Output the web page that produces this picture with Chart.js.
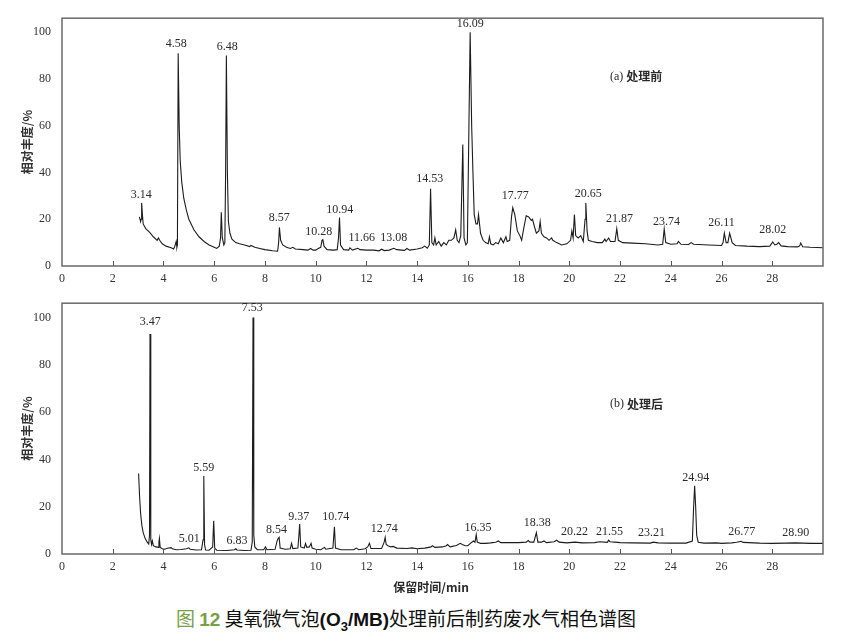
<!DOCTYPE html>
<html>
<head>
<meta charset="utf-8">
<script src="https://cdn.jsdelivr.net/npm/chart.js@4/dist/chart.umd.min.js"></script>
<style>
    body { margin: 0; background: #fff; width: 841px; height: 637px; position: relative; overflow: hidden; }
    canvas { position: absolute; left: 0; }
    #chartA { top: 0; }
    #chartB { top: 285px; }
    .caption {
        position: absolute; top: 604px; left: 0; width: 812px; text-align: center;
        font-family: "Noto Sans CJK SC", sans-serif; font-size: 19px; color: #111; white-space: nowrap;
    }
    .caption .fig { color: #78a044; }
    .caption b { font-family: "Liberation Sans", Arial, sans-serif; }
    .caption sub { font-size: 13px; }
</style>
</head>
<body>
<canvas id="chartA" width="841" height="285"></canvas>
<canvas id="chartB" width="841" height="315"></canvas>
<div class="caption"><span class="fig">图 <b>12</b></span> 臭氧微气泡<b>(O<sub>3</sub>/MB)</b>处理前后制药废水气相色谱图</div>

<script>
// (a) before treatment: retention time (min) / relative abundance (%)
const timeA = [3.05, 3.1, 3.12, 3.14, 3.17, 3.2, 3.3, 3.45, 3.6, 3.75, 3.8, 3.85, 3.95, 4.1, 4.3, 4.4, 4.45, 4.5, 4.53, 4.55,
    4.58, 4.62, 4.66, 4.72, 4.8, 4.9, 5.0, 5.2, 5.4, 5.6, 5.8, 6.0, 6.1, 6.2, 6.25, 6.28, 6.32, 6.38, 6.42, 6.45,
    6.48, 6.52, 6.56, 6.62, 6.7, 6.85, 7.0, 7.2, 7.4, 7.45, 7.6, 7.8, 8.0, 8.3, 8.5, 8.54, 8.57, 8.62, 8.7, 8.85,
    9.0, 9.1, 9.2, 9.5, 9.7, 9.8, 9.9, 10.0, 10.1, 10.2, 10.25, 10.28, 10.33, 10.45, 10.7, 10.85, 10.9, 10.94, 10.98, 11.1,
    11.3, 11.35, 11.45, 11.66, 11.75, 12.0, 12.3, 12.5, 12.6, 12.7, 12.9, 13.08, 13.2, 13.5, 13.6, 13.7, 14.0, 14.2, 14.3, 14.4,
    14.48, 14.53, 14.58, 14.65, 14.7, 14.75, 14.85, 14.95, 15.05, 15.15, 15.25, 15.35, 15.45, 15.52, 15.58, 15.65, 15.72, 15.8, 15.85, 15.92,
    15.98, 16.03, 16.09, 16.15, 16.2, 16.25, 16.32, 16.38, 16.42, 16.5, 16.6, 16.7, 16.8, 16.85, 16.9, 17.0, 17.1, 17.2, 17.3, 17.4,
    17.5, 17.55, 17.65, 17.72, 17.77, 17.85, 17.95, 18.05, 18.12, 18.2, 18.3, 18.4, 18.5, 18.55, 18.62, 18.7, 18.8, 18.85, 18.9, 19.0,
    19.1, 19.2, 19.3, 19.35, 19.5, 19.7, 19.9, 20.05, 20.1, 20.15, 20.2, 20.25, 20.35, 20.45, 20.55, 20.62, 20.65, 20.7, 20.75, 20.9,
    21.1, 21.3, 21.4, 21.45, 21.55, 21.62, 21.8, 21.87, 21.93, 22.1, 22.5, 23.0, 23.5, 23.68, 23.74, 23.8, 24.0, 24.25, 24.3, 24.4,
    24.7, 24.8, 24.9, 25.5, 26.0, 26.06, 26.11, 26.18, 26.25, 26.32, 26.42, 26.55, 27.0, 27.5, 27.9, 28.02, 28.1, 28.18, 28.25, 28.35,
    28.6, 29.0, 29.08, 29.12, 29.2, 29.5, 30.0];
const abundA = [21, 19, 20, 27, 22, 18, 16, 14.5, 12.5, 11, 12, 11, 9.5, 8.5, 7.8, 7.3, 8.5, 10.5, 8, 9,
    91, 60, 45, 36, 29, 24, 20, 15.5, 12.5, 10.5, 9, 8, 7.5, 8.5, 12, 23, 12, 9, 10, 40,
    90, 40, 19, 14, 11.5, 10, 9.5, 9, 8.3, 8.8, 8, 7.5, 7, 6.5, 6.3, 10, 16.5, 11, 9, 8,
    7.5, 8, 7.3, 7, 6.8, 7.5, 6.8, 6.8, 7.5, 8, 11, 11.5, 8.5, 7, 6.8, 7, 12, 20.7, 9, 7,
    6.8, 7.8, 6.8, 7.6, 7, 6.8, 6.8, 6.5, 7.2, 6.6, 6.8, 7.6, 7, 6.7, 7.5, 6.8, 7.3, 7.8, 8.5, 7.6,
    9, 33, 10, 9, 12, 9, 10.5, 8.5, 10, 9, 11, 11, 12, 15.5, 11, 10, 13, 52, 12, 9,
    10, 50, 100, 60, 40, 22, 18, 18, 22, 14, 11, 10, 9.5, 12.5, 9.5, 9, 10, 9.5, 12, 10,
    12.5, 10.5, 11, 21, 25, 22, 15, 13, 11, 16, 21.5, 21, 19.5, 20, 17, 14, 15, 19, 14, 12.5,
    12, 11, 12, 11, 10, 9, 9.5, 11, 15, 12, 22, 13, 12, 13, 10.5, 20, 27, 15, 11, 10.5,
    10, 10, 11.5, 10.5, 12, 10.5, 10.5, 16, 11, 10, 9.8, 9.5, 9, 9.3, 15.8, 10, 9.3, 9.5, 10.5, 9.3,
    9.2, 10, 9.3, 9, 8.8, 10, 14, 10, 10, 14, 10, 8.8, 8.5, 8.3, 8.5, 10.3, 9, 9.3, 10, 8.6,
    8.3, 8.2, 8.6, 9.8, 8.2, 8, 7.8];

// (b) after treatment
const timeB = [3.02, 3.06, 3.1, 3.15, 3.2, 3.28, 3.36, 3.42, 3.45, 3.47, 3.5, 3.53, 3.56, 3.6, 3.7, 3.8, 3.82, 3.84, 3.87, 3.95,
    4.05, 4.15, 4.3, 4.35, 4.5, 4.7, 4.9, 5.0, 5.05, 5.3, 5.5, 5.56, 5.59, 5.62, 5.66, 5.8, 5.94, 5.98, 6.02, 6.1,
    6.5, 6.8, 6.85, 6.9, 7.2, 7.45, 7.5, 7.53, 7.56, 7.6, 7.7, 7.95, 8.02, 8.08, 8.4, 8.48, 8.52, 8.56, 8.6, 8.8,
    9.0, 9.05, 9.1, 9.3, 9.34, 9.37, 9.41, 9.55, 9.6, 9.65, 9.75, 9.82, 9.86, 10.0, 10.2, 10.35, 10.4, 10.68, 10.74, 10.78,
    11.0, 11.5, 11.6, 11.7, 11.95, 12.05, 12.12, 12.18, 12.6, 12.7, 12.74, 12.78, 12.85, 12.95, 13.05, 13.2, 13.6, 13.8, 14.0, 14.3,
    14.55, 14.6, 14.7, 15.0, 15.15, 15.2, 15.3, 15.55, 15.7, 15.78, 15.9, 16.0, 16.1, 16.22, 16.28, 16.33, 16.37, 16.5, 16.7, 16.9,
    17.1, 17.2, 17.3, 17.6, 18.0, 18.3, 18.38, 18.45, 18.6, 18.7, 18.76, 18.9, 19.0, 19.1, 19.4, 19.5, 19.6, 19.9, 20.22, 20.5,
    21.0, 21.2, 21.5, 21.55, 21.6, 21.8, 22.0, 22.5, 23.2, 23.3, 23.5, 24.0, 24.6, 24.85, 24.9, 24.94, 24.98, 25.02, 25.08, 25.3,
    25.8, 26.0, 26.4, 26.6, 26.77, 26.85, 27.5, 28.0, 28.5, 28.9, 29.5, 30.0];
const abundB = [34, 24, 17, 12, 9, 6.5, 5, 4.2, 8, 93, 6, 4, 5.5, 3.5, 3, 2.8, 5, 6.6, 2.8, 2.2,
    2, 2.4, 2.7, 2.2, 1.8, 1.9, 2.2, 2.6, 2, 1.7, 1.8, 6, 33, 4, 1.7, 1.6, 3, 14, 2.5, 1.6,
    1.5, 1.8, 2.2, 1.7, 1.5, 1.6, 5, 100, 8, 3, 1.8, 1.8, 3, 1.8, 2, 5.5, 6.5, 7, 2.5, 2,
    2.2, 4.5, 2.3, 2.5, 8, 12.7, 3, 2.5, 4.5, 2.8, 3, 4.5, 2.5, 2, 1.8, 2.8, 2, 2.5, 11.5, 2.5,
    1.8, 1.8, 2.5, 1.8, 2.2, 3, 4.5, 2.3, 2.3, 5, 7, 4, 3.5, 3, 3.2, 2.5, 2.3, 2.6, 2.2, 2.5,
    3, 3.5, 2.8, 3, 3.5, 4, 3, 3.6, 4.5, 4, 3.5, 3.5, 4.5, 5.5, 5, 8.2, 5, 4.5, 4.5, 4.7,
    5, 5.5, 4.8, 4.8, 4.8, 5, 5.7, 5, 5, 9, 5, 5, 5.5, 4.8, 5.2, 5.8, 5, 4.7, 5, 4.7,
    4.8, 5.2, 4.9, 5.8, 5.2, 5, 4.8, 4.7, 4.6, 5, 4.7, 4.6, 4.6, 5.5, 20, 28.8, 20, 8, 5, 4.6,
    4.7, 4.5, 4.7, 5, 5.4, 4.9, 4.6, 4.5, 4.6, 4.7, 4.5, 4.5];

// peak labels: text, x position (min), bottom of text (%)
const peakTextA = ['3.14', '4.58', '6.48', '8.57', '10.28', '10.94', '11.66', '13.08', '14.53', '16.09', '17.77', '20.65', '21.87', '23.74', '26.11', '28.02'];
const peakXA = [3.12, 4.5, 6.51, 8.56, 10.12, 10.95, 11.82, 13.08, 14.5, 16.09, 17.87, 20.75, 21.98, 23.83, 26.0, 28.02];
const peakYA = [27.7, 92.6, 91, 18.2, 12, 21.5, 9.5, 9.5, 34.7, 101.2, 27.3, 28.5, 17.8, 16.5, 15.7, 12.8];

const peakTextB = ['3.47', '5.01', '5.59', '6.83', '7.53', '8.54', '9.37', '10.74', '12.74', '16.35', '18.38', '20.22', '21.55', '23.21', '24.94', '26.77', '28.90'];
const peakXB = [3.48, 5.02, 5.59, 6.9, 7.5, 8.46, 9.33, 10.79, 12.7, 16.4, 18.74, 20.2, 21.58, 23.24, 24.98, 26.8, 28.93];
const peakYB = [95.5, 3.7, 33.7, 2.9, 101.6, 7.8, 13.2, 13.2, 8.2, 8.6, 10.7, 7, 7, 6.6, 29.6, 7, 6.6];

const xTicks = [0, 2, 4, 6, 8, 10, 12, 14, 16, 18, 20, 22, 24, 26, 28];
const yTicks = [0, 20, 40, 60, 80, 100];

const SERIF = '"Liberation Serif", "Times New Roman", serif';
const CJK = '"Noto Sans CJK SC", sans-serif';

// frame, inward ticks, peak labels, panel name, x title
const chromPlugin = {
    id: 'chrom',
    afterDraw(chart, args, opts) {
        const { ctx, chartArea: a, scales: { x, y } } = chart;
        ctx.save();
        ctx.strokeStyle = '#6a6a6a';
        ctx.lineWidth = 1.5;
        ctx.strokeRect(a.left, a.top, a.right - a.left, a.bottom - a.top);

        ctx.lineWidth = 1;
        ctx.strokeStyle = '#555';
        ctx.beginPath();
        xTicks.forEach(v => {
            if (v === 0) return;
            const px = Math.round(x.getPixelForValue(v)) + 0.5;
            ctx.moveTo(px, a.bottom);
            ctx.lineTo(px, a.bottom - 5);
        });
        ctx.stroke();

        ctx.fillStyle = '#2a2a2a';
        ctx.font = '12px ' + SERIF;
        ctx.textAlign = 'center';
        ctx.textBaseline = 'bottom';
        opts.texts.forEach((s, i) => {
            ctx.fillText(s, x.getPixelForValue(opts.xs[i]), y.getPixelForValue(opts.ys[i]));
        });

        // panel name
        ctx.textAlign = 'left';
        ctx.textBaseline = 'middle';
        const px = x.getPixelForValue(opts.panelX), py = y.getPixelForValue(opts.panelY);
        ctx.font = '12px ' + SERIF;
        ctx.fillText(opts.panelTag, px, py);
        const w = ctx.measureText(opts.panelTag + ' ').width;
        ctx.font = 'bold 12px ' + CJK;
        ctx.fillText(opts.panelName, px + w, py);

        if (opts.xTitle) {
            ctx.textAlign = 'center';
            ctx.font = 'bold 12px ' + CJK;
            ctx.fillText(opts.xTitle, x.getPixelForValue(14.55), a.bottom + 33);
        }
        ctx.restore();
    }
};

function makeChart(id, times, values, labelOpts, padTop, xHeight) {
    return new Chart(document.getElementById(id), {
        type: 'line',
        data: {
            datasets: [{
                data: times.map((t, i) => ({ x: t, y: values[i] })),
                borderColor: '#1c1c1c',
                borderWidth: 1.1,
                pointRadius: 0,
                tension: 0,
                fill: false
            }]
        },
        options: {
            responsive: false,
            animation: false,
            layout: { padding: { left: 0, top: padTop, right: 18, bottom: 0 } },
            plugins: { legend: { display: false }, tooltip: { enabled: false }, chrom: labelOpts },
            scales: {
                x: {
                    type: 'linear', min: 0, max: 30,
                    afterBuildTicks: s => { s.ticks = xTicks.map(v => ({ value: v })); },
                    afterFit: s => { s.height = xHeight; },
                    grid: { display: false, drawTicks: false },
                    border: { display: false },
                    ticks: { color: '#333', font: { family: SERIF, size: 12 }, padding: 6, maxRotation: 0, autoSkip: false }
                },
                y: {
                    min: 0, max: 106,
                    afterBuildTicks: s => { s.ticks = yTicks.map(v => ({ value: v })); },
                    afterFit: s => { s.width = 62; },
                    grid: { display: false, drawTicks: false },
                    border: { display: false },
                    ticks: { color: '#333', font: { family: SERIF, size: 12 }, padding: 11 },
                    title: { display: true, text: '相对丰度/%', color: '#333', font: { family: CJK, size: 12, weight: 'bold' }, padding: { top: 20, bottom: 0 } }
                }
            }
        },
        plugins: [chromPlugin]
    });
}

makeChart('chartA', timeA, abundA, {
    texts: peakTextA, xs: peakXA, ys: peakYA,
    panelTag: '(a)', panelName: '处理前', panelX: 21.6, panelY: 81
}, 10, 19);

makeChart('chartB', timeB, abundB, {
    texts: peakTextB, xs: peakXB, ys: peakYB,
    panelTag: '(b)', panelName: '处理后', panelX: 21.6, panelY: 63.4, xTitle: '保留时间/min'
}, 12, 46);
</script>
</body>
</html>
